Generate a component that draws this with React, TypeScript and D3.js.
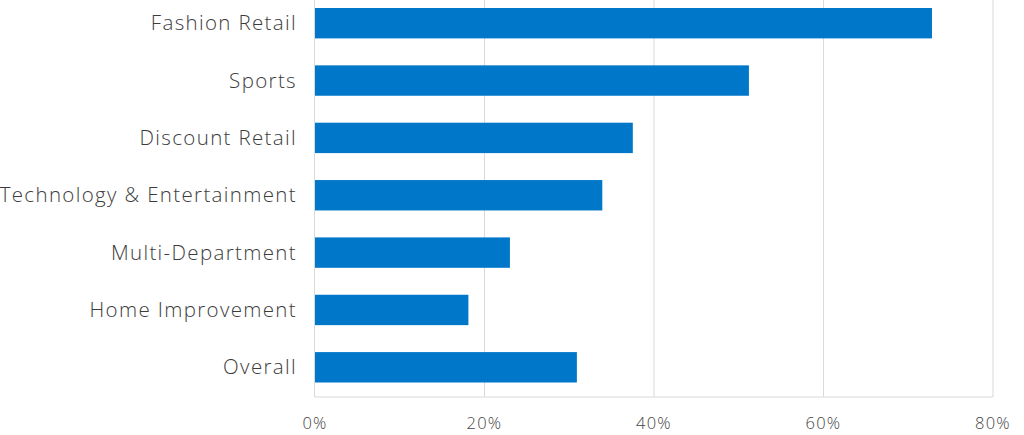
import React from "react";
import * as d3 from "d3";

const categories = [
  "Fashion Retail",
  "Sports",
  "Discount Retail",
  "Technology & Entertainment",
  "Multi-Department",
  "Home Improvement",
  "Overall",
];
const values = [72.8, 51.2, 37.5, 33.9, 23.0, 18.1, 30.9];
const tickValues = [0, 20, 40, 60, 80];

const W = 1024;
const H = 435;
const left = 315;
const right = 993;
const bandTop = 8;
const bandBottom = 382.5;
const bottom = 397;
const FONT = "'Open Sans', Lato, sans-serif";

export default function App() {
  const x = d3.scaleLinear().domain([0, 80]).range([left, right]);
  const y = d3
    .scaleBand<string>()
    .domain(categories)
    .range([bandTop, bandBottom])
    .paddingInner(0.47)
    .paddingOuter(0);

  return (
    <svg
      width={W}
      height={H}
      style={{ position: "fixed", left: 0, top: 0, background: "#fff" }}
    >
      {tickValues.map((t) =>
        t === 0 ? null : (
          <line
            key={"g" + t}
            x1={x(t)}
            x2={x(t)}
            y1={0}
            y2={bottom}
            stroke="#d9d9d9"
            strokeWidth={1}
          />
        )
      )}
      <line x1={left} x2={right} y1={bottom} y2={bottom} stroke="#d9d9d9" strokeWidth={1} />
      <line x1={left - 0.5} x2={left - 0.5} y1={0} y2={bottom} stroke="#d9d9d9" strokeWidth={1} />
      {categories.map((c, i) => (
        <rect
          key={c}
          x={x(0)}
          y={y(c)!}
          width={x(values[i]) - x(0)}
          height={y.bandwidth()}
          fill="#0077C8"
        />
      ))}
      {categories.map((c) => (
        <text
          key={"l" + c}
          x={297}
          y={y(c)! + y.bandwidth() / 2}
          dy="0.35em"
          textAnchor="end"
          fontFamily={FONT}
          fontSize={20.5}
          fontWeight={300}
          letterSpacing={1.35}
          fill="#3c3c3c"
        >
          {c}
        </text>
      ))}
      {tickValues.map((t) => (
        <text
          key={"t" + t}
          x={x(t)}
          y={423}
          dy="0.35em"
          textAnchor="middle"
          fontFamily={FONT}
          fontSize={16.5}
          fontWeight={300}
          letterSpacing={1.2}
          fill="#444"
        >
          {t + "%"}
        </text>
      ))}
    </svg>
  );
}
